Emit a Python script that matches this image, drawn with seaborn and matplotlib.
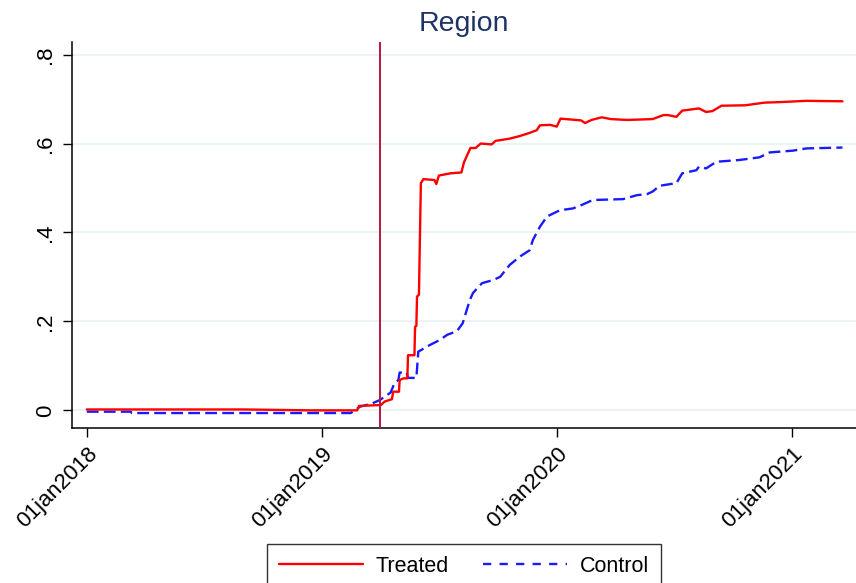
import numpy as np
import pandas as pd
import matplotlib
matplotlib.use("Agg")
import matplotlib.pyplot as plt
import matplotlib.dates as mdates
import seaborn as sns

# Share of units adopting, by group
treated_dates = [
    "2018-01-01", "2018-09-01", "2018-12-15", "2019-02-25", "2019-02-28",
    "2019-04-03", "2019-04-09", "2019-04-20", "2019-04-22", "2019-05-01",
    "2019-05-02", "2019-05-08", "2019-05-14", "2019-05-15", "2019-05-25",
    "2019-05-26", "2019-05-28", "2019-05-29", "2019-06-01", "2019-06-04",
    "2019-06-08", "2019-06-25", "2019-06-28", "2019-07-02", "2019-07-20",
    "2019-08-06", "2019-08-10", "2019-08-15", "2019-08-20", "2019-08-28",
    "2019-09-05", "2019-09-22", "2019-09-28", "2019-10-20", "2019-11-05",
    "2019-11-20", "2019-12-01", "2019-12-06", "2019-12-22", "2020-01-01",
    "2020-01-07", "2020-02-08", "2020-02-14", "2020-02-24", "2020-03-11",
    "2020-03-25", "2020-04-19", "2020-05-29", "2020-06-15", "2020-06-22",
    "2020-07-05", "2020-07-14", "2020-08-09", "2020-08-20", "2020-08-30",
    "2020-09-13", "2020-10-20", "2020-11-19", "2020-12-10", "2021-01-23",
    "2021-03-20",
]
treated_values = [
    0.002, 0.002, 0.000, 0.000, 0.010,
    0.012, 0.020, 0.025, 0.042, 0.042,
    0.068, 0.072, 0.072, 0.124, 0.124,
    0.188, 0.190, 0.256, 0.260, 0.511,
    0.520, 0.518, 0.509, 0.528, 0.533,
    0.535, 0.558, 0.574, 0.590, 0.590,
    0.600, 0.598, 0.606, 0.611, 0.617,
    0.624, 0.630, 0.641, 0.642, 0.638,
    0.656, 0.652, 0.646, 0.653, 0.659,
    0.655, 0.653, 0.655, 0.664, 0.664,
    0.660, 0.674, 0.679, 0.671, 0.673,
    0.685, 0.686, 0.692, 0.693, 0.696,
    0.695,
]

control_dates = [
    "2018-01-01", "2018-03-10", "2018-03-12", "2019-02-15", "2019-03-01",
    "2019-03-21", "2019-04-01", "2019-04-12", "2019-04-18", "2019-04-24",
    "2019-04-30", "2019-05-02", "2019-05-13", "2019-05-15", "2019-05-28",
    "2019-05-31", "2019-06-18", "2019-07-03", "2019-07-15", "2019-07-30",
    "2019-08-08", "2019-08-19", "2019-08-24", "2019-09-07", "2019-09-24",
    "2019-10-05", "2019-10-20", "2019-11-05", "2019-11-20", "2019-11-25",
    "2019-12-06", "2019-12-17", "2020-01-06", "2020-01-26", "2020-02-06",
    "2020-02-26", "2020-04-13", "2020-05-05", "2020-05-20", "2020-05-29",
    "2020-06-09", "2020-07-05", "2020-07-14", "2020-08-05", "2020-08-09",
    "2020-08-20", "2020-09-05", "2020-10-11", "2020-11-11", "2020-11-27",
    "2021-01-02", "2021-01-23", "2021-03-20",
]
control_values = [
    -0.003, -0.003, -0.006, -0.006, 0.008,
    0.016, 0.023, 0.034, 0.040, 0.061,
    0.068, 0.085, 0.085, 0.073, 0.073,
    0.132, 0.147, 0.158, 0.170, 0.178,
    0.196, 0.248, 0.264, 0.286, 0.293,
    0.300, 0.327, 0.346, 0.360, 0.383,
    0.413, 0.436, 0.450, 0.454, 0.460,
    0.473, 0.475, 0.484, 0.486, 0.492,
    0.505, 0.511, 0.533, 0.540, 0.548,
    0.544, 0.559, 0.563, 0.569, 0.580,
    0.584, 0.589, 0.591,
]

event_date = "2019-04-01"
x_ticks = ["2018-01-01", "2019-01-01", "2020-01-01", "2021-01-01"]
y_ticks = [0, 0.2, 0.4, 0.6, 0.8]
y_tick_labels = ["0", ".2", ".4", ".6", ".8"]
title = "Region"

treated = pd.DataFrame({"date": pd.to_datetime(treated_dates), "share": treated_values})
control = pd.DataFrame({"date": pd.to_datetime(control_dates), "share": control_values})

sns.set_theme(style="white")
plt.rcParams["font.family"] = ["Liberation Sans", "DejaVu Sans"]
plt.rcParams["text.color"] = "black"

fig = plt.figure(figsize=(8.56, 5.83), dpi=100)
ax = fig.add_axes([72 / 856, 1 - 427.7 / 583, (856 - 72) / 856, (427.7 - 41.7) / 583])

for y in y_ticks:
    ax.axhline(y, color="#EAF2F3", lw=1.3, zorder=0)

sns.lineplot(data=treated, x="date", y="share", ax=ax, color="#FF0000",
             lw=1.7, label="Treated", zorder=3)
sns.lineplot(data=control, x="date", y="share", ax=ax, color="#1A1AFF",
             lw=1.7, label="Control", zorder=2)
ax.lines[-1].set_dashes([5, 2.2])

ax.axvline(pd.Timestamp(event_date), color="#B5173F", lw=1.4, zorder=4)

ax.set_xlim(pd.Timestamp("2018-01-01") - pd.Timedelta(days=23),
            pd.Timestamp("2018-01-01") + pd.Timedelta(days=1195))
ax.set_ylim(-0.039, 0.829)

ax.set_xticks(pd.to_datetime(x_ticks))
ax.xaxis.set_major_formatter(
    matplotlib.ticker.FuncFormatter(
        lambda v, p: mdates.num2date(v).strftime("%d%b%Y").lower()))
ax.set_yticks(y_ticks)
ax.set_yticklabels(y_tick_labels, rotation=90, va="center")
ax.tick_params(axis="both", length=6.5, width=1, color="black", labelsize=16,
               pad=5, labelcolor="black", direction="out", bottom=True, left=True)
for lab in ax.get_xticklabels():
    lab.set_rotation(45)
    lab.set_ha("right")
    lab.set_rotation_mode("anchor")

ax.set_xlabel("")
ax.set_ylabel("")
for side in ["top", "right"]:
    ax.spines[side].set_visible(False)
for side in ["left", "bottom"]:
    ax.spines[side].set_color("black")
    ax.spines[side].set_linewidth(1.1)

ax.set_title(title, fontsize=20.5, color="#1F3463", pad=8)

ax.get_legend().remove()
handles, labels = ax.get_legend_handles_labels()
leg = fig.legend(handles, labels, loc="upper center",
                 bbox_to_anchor=(464 / 856, 1 - 544 / 583), ncol=2,
                 fontsize=15.5, frameon=True, fancybox=False, handlelength=3.9,
                 handletextpad=0.6, columnspacing=1.6, borderpad=0.55,
                 borderaxespad=0, labelcolor="black")
leg.get_frame().set_edgecolor("black")
leg.get_frame().set_linewidth(1.0)
leg.legend_handles[1].set_dashes([3.5, 3.5])

fig.savefig("out.png", dpi=100)
